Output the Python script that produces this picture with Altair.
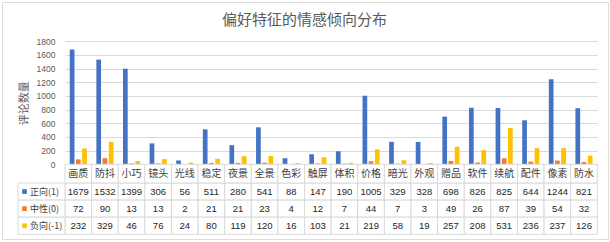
import altair as alt
import pandas as pd

# ---------------- data ----------------
categories = ["画质", "防抖", "小巧", "镜头", "光线", "稳定", "夜景", "全景", "色彩", "触屏",
              "体积", "价格", "暗光", "外观", "赠品", "软件", "续航", "配件", "像素", "防水"]
series_names = ["正向(1)", "中性(0)", "负向(-1)"]
positive = [1679, 1532, 1399, 306, 56, 511, 280, 541, 88, 147, 190, 1005, 329, 328, 698, 826, 825, 644, 1244, 821]
neutral = [72, 90, 13, 13, 2, 21, 21, 23, 4, 12, 7, 44, 7, 3, 49, 26, 87, 39, 54, 32]
negative = [232, 329, 46, 76, 24, 80, 119, 120, 16, 103, 21, 219, 58, 19, 257, 208, 531, 236, 237, 126]
y_ticks = [0, 200, 400, 600, 800, 1000, 1200, 1400, 1600, 1800]
title_text = "偏好特征的情感倾向分布"
y_title = "评论数量"
header_label = "类别"

colors = ["#4472C4", "#ED7D31", "#FFC000"]
GRID = "#d9d9d9"
CJK = "Noto Sans CJK SC"
NUM = "Liberation Sans"

rows = []
for s, vals in zip(series_names, [positive, neutral, negative]):
    for c, v in zip(categories, vals):
        rows.append({"cat": c, "series": s, "value": v})
df = pd.DataFrame(rows)
df_hdr = pd.DataFrame({"cat": categories, "hdr": [header_label] * len(categories)})
df_series = pd.DataFrame({"series": series_names})
df_title = pd.DataFrame({"t": [title_text]})

# ---------------- scales ----------------
x_scale = alt.Scale(domain=categories, range=[63, 595.3], paddingInner=0, paddingOuter=0)
row_scale = alt.Scale(domain=series_names, range=[181, 232.3], paddingInner=0, paddingOuter=0)
hdr_scale = alt.Scale(domain=[header_label], range=[162.3, 181], paddingInner=0, paddingOuter=0)
color_scale = alt.Scale(domain=series_names, range=colors)

X = alt.X("cat:N", scale=x_scale, axis=None, sort=categories)

bars = alt.Chart(df).mark_bar().encode(
    x=X,
    xOffset=alt.XOffset("series:N", scale=alt.Scale(domain=series_names, paddingInner=0.24, paddingOuter=0.765)),
    y=alt.Y("value:Q",
            scale=alt.Scale(domain=[0, 1800], range=[162.3, 39.3], nice=False, zero=True),
            axis=alt.Axis(values=y_ticks, format="d", title=y_title, offset=-63, domain=False, ticks=False,
                          labelPadding=10, labelFont=NUM, labelFontSize=8.5, labelColor="#595959",
                          titleFont=CJK, titleFontSize=11, titleColor="#595959", titleFontWeight="normal",
                          titlePadding=7, grid=True, gridColor=GRID, gridWidth=1)),
    color=alt.Color("series:N", scale=color_scale, legend=None),
)

cells = alt.Chart(df).mark_rect(fill="white", stroke=GRID, strokeWidth=1).encode(
    x=X,
    y=alt.Y("series:N", scale=row_scale, axis=None),
)
cell_text = alt.Chart(df).mark_text(font=NUM, fontSize=9.5, color="#262626").encode(
    x=X,
    y=alt.Y("series:N", scale=row_scale, axis=None),
    text=alt.Text("value:Q", format="d"),
)

hdr_cells = alt.Chart(df_hdr).mark_rect(fill="white", stroke=GRID, strokeWidth=1).encode(
    x=X,
    y=alt.Y("hdr:N", scale=hdr_scale, axis=None),
)
hdr_text = alt.Chart(df_hdr).mark_text(font=CJK, fontSize=10, color="#404040").encode(
    x=X,
    y=alt.Y("hdr:N", scale=hdr_scale, axis=None),
    text="cat:N",
)

left_cells = alt.Chart(df_series).mark_rect(fill="white", stroke=GRID, strokeWidth=1).encode(
    x=alt.value(16), x2=alt.value(63),
    y=alt.Y("series:N", scale=row_scale, axis=None),
)
left_sq = alt.Chart(df_series).mark_square(size=22, opacity=1).encode(
    x=alt.value(22.5),
    y=alt.Y("series:N", scale=row_scale, axis=None),
    color=alt.Color("series:N", scale=color_scale, legend=None),
)
left_text = alt.Chart(df_series).mark_text(font=CJK, fontSize=9, color="#404040", align="left").encode(
    x=alt.value(28),
    y=alt.Y("series:N", scale=row_scale, axis=None),
    text="series:N",
)

title = alt.Chart(df_title).mark_text(font=CJK, fontSize=15, color="#595959").encode(
    x=alt.value(302.5), y=alt.value(17.5), text="t:N",
)

chart = alt.layer(
    bars, cells, cell_text, hdr_cells, hdr_text, left_cells, left_sq, left_text, title
).resolve_scale(y="independent").properties(
    width=606, height=237,
    autosize=alt.AutoSizeParams(type="none"),
    padding={"left": 2, "top": 2, "right": 2, "bottom": 3},
).configure_view(stroke=GRID, strokeWidth=1).configure(background="white")

chart.save("out.html", embed_options={"renderer": "svg", "actions": False})
